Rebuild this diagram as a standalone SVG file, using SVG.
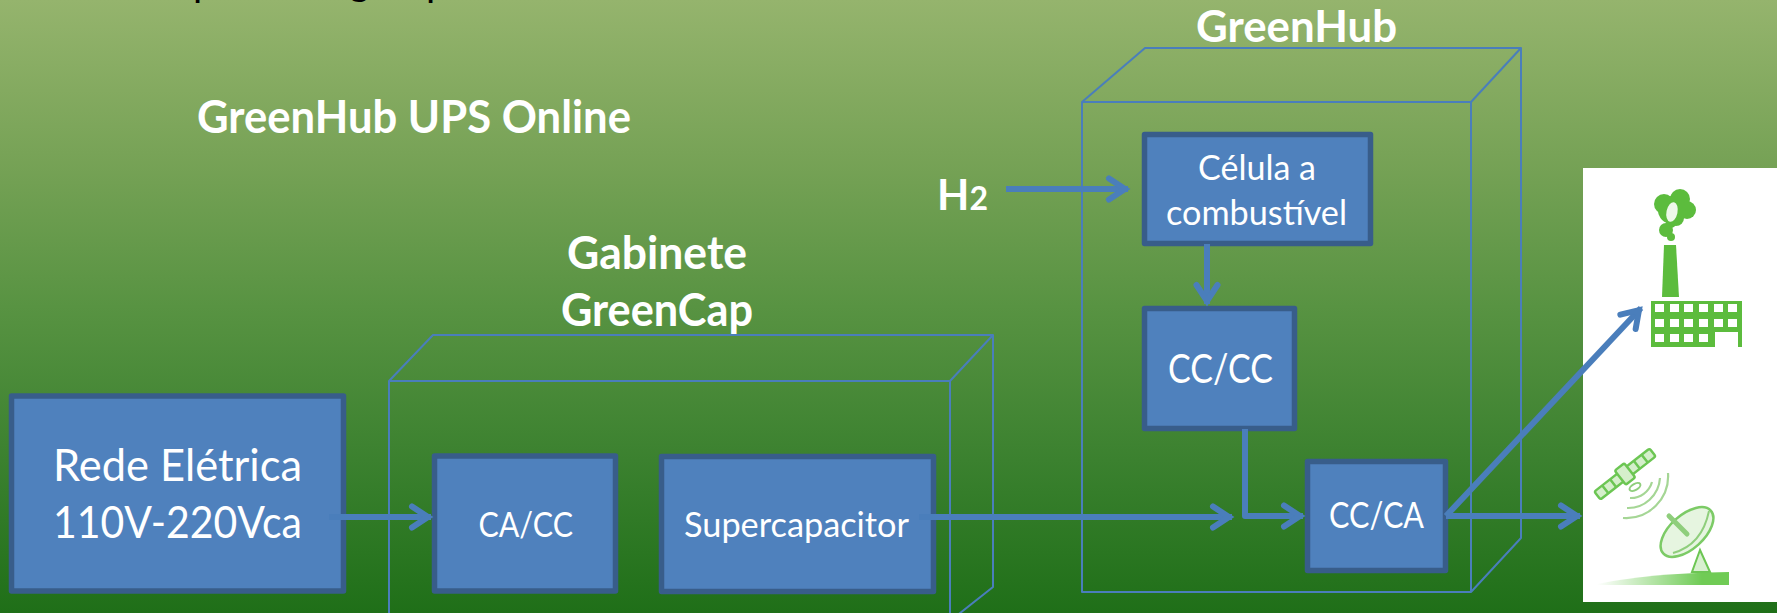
<svg xmlns="http://www.w3.org/2000/svg" width="1777" height="613" viewBox="0 0 1777 613">
<style>
.box{fill:#4f81bd;stroke:#385d8a;stroke-width:5.5;stroke-linejoin:round}
.cube{fill:none;stroke:#4a7ebb;stroke-width:2;stroke-linejoin:round}
.conn{fill:none;stroke:#4a7ebb;stroke-width:6;stroke-linejoin:round;marker-end:url(#arrow)}
text{font-family:Lato,"Open Sans",sans-serif;fill:#fff}
.b{font-weight:700}
.g{fill:#5cbc3e}
.w{fill:#fff}
</style>
<defs>
<linearGradient id="bg" x1="0" y1="0" x2="0" y2="1">
<stop offset="0" stop-color="#95b46d"/>
<stop offset="0.25" stop-color="#78a357"/>
<stop offset="0.5" stop-color="#589342"/>
<stop offset="0.75" stop-color="#3b812f"/>
<stop offset="1" stop-color="#1f6f18"/>
</linearGradient>
<linearGradient id="ground" x1="0" y1="0" x2="1" y2="0">
<stop offset="0" stop-color="#fff"/>
<stop offset="0.8" stop-color="#6fcb55"/>
</linearGradient>
<marker id="arrow" markerUnits="userSpaceOnUse" markerWidth="40" markerHeight="40" viewBox="-30 -20 40 40" refX="0" refY="0" orient="auto" overflow="visible">
<path d="M-19,-10.5 L-3,0 L-19,10.5" fill="none" stroke="#4a7ebb" stroke-width="6" stroke-linecap="round" stroke-linejoin="miter"/>
</marker>
<filter id="soft" x="-10%" y="-10%" width="120%" height="120%"><feGaussianBlur stdDeviation="0.6"/></filter>
</defs>
<rect width="1777" height="613" fill="url(#bg)"/>
<g id="cut-off-text" font-size="40">
<text x="193" y="-4" style="fill:#000">p</text>
<text x="349" y="-5" style="fill:#000">g</text>
<text x="426" y="-4" style="fill:#000">p</text>
</g>
<g id="title"><text class="b" x="197" y="133" font-size="45" textLength="434" lengthAdjust="spacingAndGlyphs">GreenHub UPS Online</text></g>
<g id="cube-greencap">
<path class="cube" d="M389,660 V381 H950 V660 M389,381 L433,335 H993 V587 L950,621 M950,381 L993,335"/>
<text class="b" x="567" y="269" font-size="45" textLength="180" lengthAdjust="spacingAndGlyphs">Gabinete</text>
<text class="b" x="561" y="326" font-size="45" textLength="192" lengthAdjust="spacingAndGlyphs">GreenCap</text>
</g>
<g id="cube-greenhub">
<path class="cube" d="M1082,592 V102 H1471 V592 Z M1082,102 L1145,48 H1521 V538 L1471,592 M1471,102 L1521,48"/>
<text class="b" x="1196" y="42" font-size="43" textLength="201" lengthAdjust="spacingAndGlyphs">GreenHub</text>
</g>
<g id="rede"><rect class="box" x="11.500" y="396" width="332" height="195"/>
<text x="53" y="481" font-size="44" textLength="249" lengthAdjust="spacingAndGlyphs">Rede Elétrica</text>
<text x="53" y="538" font-size="44" textLength="249" lengthAdjust="spacingAndGlyphs">110V-220Vca</text></g>
<g id="cacc"><rect class="box" x="434.500" y="456" width="181" height="135"/>
<text x="478.500" y="537" font-size="35" textLength="94.500" lengthAdjust="spacingAndGlyphs">CA/CC</text></g>
<g id="supercap"><rect class="box" x="661.500" y="456.500" width="272" height="135"/>
<text x="684" y="537" font-size="35" textLength="225" lengthAdjust="spacingAndGlyphs">Supercapacitor</text></g>
<g id="celula"><rect class="box" x="1144.500" y="134.500" width="226" height="109"/>
<text x="1198" y="180" font-size="34" textLength="118" lengthAdjust="spacingAndGlyphs">Célula a</text>
<text x="1166" y="225" font-size="34" textLength="181" lengthAdjust="spacingAndGlyphs">combustível</text></g>
<g id="cccc"><rect class="box" x="1144.500" y="308.500" width="150" height="120"/>
<text x="1168" y="383" font-size="41" textLength="105" lengthAdjust="spacingAndGlyphs">CC/CC</text></g>
<g id="ccca"><rect class="box" x="1307.500" y="461.500" width="138" height="109"/>
<text x="1329" y="528" font-size="36" textLength="95" lengthAdjust="spacingAndGlyphs">CC/CA</text></g>
<g id="h2"><text class="b" x="937" y="210" font-size="42">H<tspan font-size="32">2</tspan></text></g>
<g id="loads">
<rect class="w" x="1583" y="168" width="194" height="434"/>
<g id="factory" filter="url(#soft)">
<path class="g" d="M1664,245 H1676 L1679,297 H1662 Z"/>
<circle class="g" cx="1664" cy="204" r="10"/><circle class="g" cx="1680" cy="199" r="10"/><circle class="g" cx="1687" cy="210" r="9"/><circle class="g" cx="1672" cy="210" r="14"/><circle class="g" cx="1676" cy="218" r="8"/><circle class="g" cx="1671" cy="223" r="5"/><circle class="g" cx="1666" cy="230" r="7"/><circle class="g" cx="1671" cy="237" r="4"/>
<ellipse cx="1672" cy="212" rx="5.500" ry="10" fill="#eef8ea" transform="rotate(12 1672 212)"/>
<path class="g" d="M1651,301 H1742 V347 H1738 V332 H1715 V347 H1651 Z"/>
<g class="w">
<rect x="1655" y="304" width="9" height="8"/><rect x="1670" y="304" width="9" height="8"/><rect x="1684" y="304" width="9" height="8"/><rect x="1699" y="304" width="9" height="8"/><rect x="1714" y="304" width="9" height="8"/><rect x="1728" y="304" width="9" height="8"/>
<rect x="1655" y="319" width="9" height="8"/><rect x="1670" y="319" width="9" height="8"/><rect x="1684" y="319" width="9" height="8"/><rect x="1699" y="319" width="9" height="8"/><rect x="1714" y="319" width="9" height="8"/><rect x="1728" y="319" width="9" height="8"/>
<rect x="1655" y="334" width="9" height="8"/><rect x="1670" y="334" width="9" height="8"/><rect x="1684" y="334" width="9" height="8"/><rect x="1699" y="334" width="9" height="8"/>
</g>
</g>
<g id="satellite" filter="url(#soft)">
<g transform="rotate(-38 1625 474)" stroke="#6cc653" stroke-width="2.500" fill="#d5efcb">
<rect x="1590" y="469" width="70" height="10" rx="2"/>
<path d="M1600,469 V479 M1610,469 V479 M1640,469 V479 M1650,469 V479" fill="none"/>
<rect x="1619" y="465" width="12" height="18" rx="2"/>
</g>
<ellipse cx="1635" cy="487" rx="6" ry="3" fill="#fff" stroke="#8fce7c" stroke-width="2" transform="rotate(-30 1635 487)"/>
<g fill="none" stroke="#a5d695" stroke-width="2.200">
<path d="M1668,473 A42,42 0 0 1 1623,518"/>
<path d="M1660,478 A32,32 0 0 1 1627,508"/>
<path d="M1652,482 A22,22 0 0 1 1630,498"/>
</g>
<path d="M1700,550 L1692,572 H1710 Z" fill="#d8f0d0" stroke="#6cc653" stroke-width="2"/>
<ellipse cx="1687" cy="532" rx="32" ry="17" fill="#e6f5e0" stroke="#7ccb66" stroke-width="2.500" transform="rotate(-42 1687 532)"/>
<path d="M1673,553 Q1702,545 1709,511" fill="none" stroke="#8fce7c" stroke-width="2"/>
<path d="M1669,516 L1687,534" stroke="#8fce7c" stroke-width="5" stroke-linecap="round"/>
<path d="M1597,584 Q1650,573 1729,572 V585 H1597 Z" fill="url(#ground)"/>
</g>
</g>
<g id="connectors">
<path class="conn" d="M329,517 H431"/>
<path class="conn" d="M919,517 H1232"/>
<path class="conn" d="M1245,429 V516 H1303"/>
<path class="conn" d="M1006,189 H1128"/>
<path class="conn" d="M1207,244 V304"/>
<path class="conn" d="M1446,516 H1580"/>
<path class="conn" d="M1446,516 L1641,308"/>
</g>
</svg>
